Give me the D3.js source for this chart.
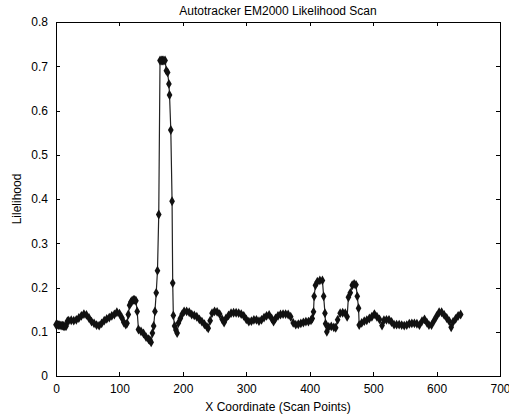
<!DOCTYPE html>
<html><head><meta charset="utf-8">
<script src="https://cdn.jsdelivr.net/npm/d3@7/dist/d3.min.js"></script>
<style>body{margin:0;background:#fff;}svg{display:block;font-family:"Liberation Sans",Arial,sans-serif;}</style>
</head><body><svg id="c" width="509" height="416"></svg>
<script>
const title = "Autotracker EM2000 Likelihood Scan";
const xLabel = "X Coordinate (Scan Points)";
const yLabel = "Lilelihood";
const xTicks = [0,100,200,300,400,500,600,700];
const yTicks = [0,0.1,0.2,0.3,0.4,0.5,0.6,0.7,0.8];
const xs = [0,2,4,6,8,10,12,14,16,18,20,24,28,32,36,40,44,48,52,56,60,64,68,72,76,80,84,88,92,96,100,104,107,110,112,114,116,118,120,122,124,126,128,130,134,138,142,146,148,150,152,154,156,158,160,162,164,166,168,170,172,174,176,178,179,181,183,184,185,187,189,191,193,196,199,202,206,210,214,218,222,226,230,234,238,240,243,246,250,254,258,262,265,268,272,276,280,284,288,292,296,300,304,308,312,316,320,324,328,332,336,340,343,346,350,354,358,362,366,370,374,378,382,386,390,394,398,402,404,406,407,409,412,416,420,422,424,425,427,430,434,438,441,444,448,452,456,459,461,464,467,470,473,475,477,478,482,486,490,494,498,502,506,510,514,517,521,525,529,533,537,541,545,549,553,557,561,565,569,573,577,581,585,588,592,596,600,604,608,612,616,620,623,626,630,634,638];
const ys = [0.116,0.116,0.115,0.115,0.114,0.114,0.113,0.112,0.113,0.124,0.125,0.126,0.125,0.127,0.131,0.136,0.140,0.138,0.131,0.123,0.119,0.115,0.114,0.119,0.125,0.129,0.132,0.136,0.139,0.144,0.141,0.131,0.121,0.116,0.119,0.139,0.160,0.167,0.170,0.172,0.172,0.170,0.146,0.105,0.101,0.096,0.088,0.083,0.081,0.076,0.097,0.113,0.146,0.188,0.238,0.365,0.713,0.713,0.713,0.713,0.713,0.690,0.686,0.660,0.635,0.556,0.395,0.210,0.137,0.113,0.104,0.097,0.120,0.130,0.140,0.146,0.146,0.144,0.139,0.137,0.134,0.128,0.123,0.117,0.111,0.108,0.125,0.142,0.146,0.145,0.140,0.128,0.121,0.130,0.137,0.142,0.143,0.143,0.142,0.140,0.136,0.128,0.123,0.124,0.127,0.127,0.124,0.127,0.132,0.136,0.138,0.130,0.123,0.130,0.136,0.139,0.140,0.140,0.139,0.134,0.120,0.116,0.117,0.119,0.121,0.123,0.123,0.126,0.130,0.145,0.180,0.205,0.213,0.216,0.216,0.180,0.142,0.118,0.100,0.111,0.112,0.110,0.109,0.127,0.142,0.143,0.142,0.134,0.178,0.188,0.205,0.208,0.206,0.180,0.153,0.115,0.120,0.124,0.126,0.130,0.134,0.140,0.134,0.128,0.114,0.126,0.127,0.127,0.122,0.116,0.116,0.116,0.115,0.114,0.115,0.118,0.119,0.119,0.118,0.115,0.124,0.128,0.120,0.115,0.115,0.125,0.135,0.144,0.144,0.138,0.131,0.124,0.110,0.122,0.129,0.136,0.139];

const svg = d3.select("#c");
const L = 56, R = 500, T = 22, B = 376;
const x = d3.scaleLinear().domain([0,700]).range([L,R]);
const y = d3.scaleLinear().domain([0,0.8]).range([B,T]);

svg.append("rect").attr("x",L).attr("y",T).attr("width",R-L).attr("height",B-T)
  .attr("fill","none").attr("stroke","#000").attr("stroke-width",1).attr("shape-rendering","crispEdges");

const fs = 12;
const gx = svg.append("g").attr("transform",`translate(0,${B})`)
  .call(d3.axisBottom(x).tickValues(xTicks).tickSize(-4).tickPadding(8).tickFormat(d3.format("d")));
const gxt = svg.append("g").attr("transform",`translate(0,${T})`)
  .call(d3.axisTop(x).tickValues(xTicks).tickSize(-4).tickFormat(""));
const gy = svg.append("g").attr("transform",`translate(${L},0)`)
  .call(d3.axisLeft(y).tickValues(yTicks).tickSize(-4).tickPadding(8).tickFormat(d => d===0 ? "0" : d3.format(".1f")(d)));
const gyr = svg.append("g").attr("transform",`translate(${R},0)`)
  .call(d3.axisRight(y).tickValues(yTicks).tickSize(-4).tickFormat(""));
[gx,gxt,gy,gyr].forEach(g=>{
  g.select(".domain").remove();
  g.selectAll("line").attr("stroke","#000").attr("shape-rendering","crispEdges");
  g.selectAll("text").attr("font-size",fs).attr("fill","#000").attr("font-family","'Liberation Sans',Arial,sans-serif");
});

const data = xs.map((v,i)=>({x:v,y:ys[i]}));
svg.append("path").datum(data)
  .attr("d", d3.line().x(d=>x(d.x)).y(d=>y(d.y)))
  .attr("fill","none").attr("stroke","#222").attr("stroke-width",1.2);
svg.append("g").selectAll("path").data(data).join("path")
  .attr("transform", d=>`translate(${x(d.x)},${y(d.y)})`)
  .attr("d", d3.symbol().type(d3.symbolDiamond).size(28))
  .attr("fill","#111");

svg.append("text").attr("x",(L+R)/2).attr("y",15).attr("text-anchor","middle")
  .attr("font-size",fs).attr("fill","#000").text(title);
svg.append("text").attr("x",(L+R)/2).attr("y",411).attr("text-anchor","middle")
  .attr("font-size",fs).attr("fill","#000").text(xLabel);
svg.append("text").attr("transform",`translate(21,${(T+B)/2}) rotate(-90)`).attr("text-anchor","middle")
  .attr("font-size",fs).attr("fill","#000").text(yLabel);
</script></body></html>
